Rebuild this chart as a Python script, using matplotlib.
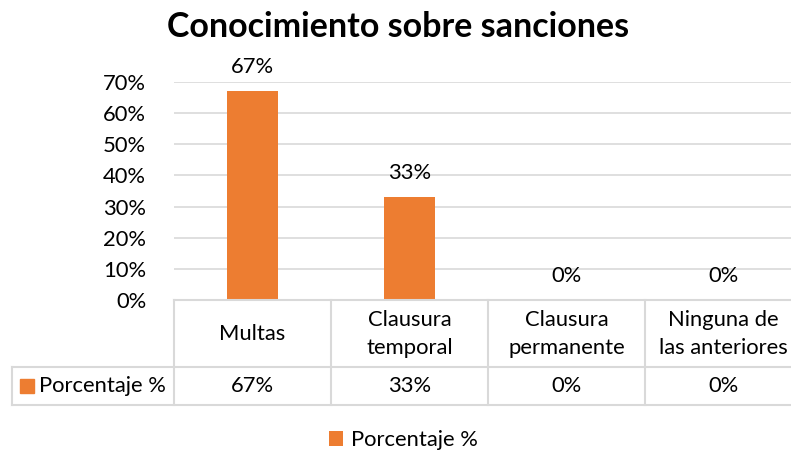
import matplotlib
matplotlib.use("Agg")
import matplotlib.pyplot as plt
from matplotlib.patches import Rectangle
from matplotlib.ticker import PercentFormatter

# --- Data ---
categorias = ["Multas", "Clausura\ntemporal", "Clausura\npermanente", "Ninguna de\nlas anteriores"]
porcentaje = [0.67, 0.33, 0.0, 0.0]
etiquetas = ["67%", "33%", "0%", "0%"]
serie = "Porcentaje %"
titulo = "Conocimiento sobre sanciones"

naranja = "#ED7D31"
gris = "#D9D9D9"
W, H = 791, 450
fs = 15.8

plt.rcParams['font.family'] = ['Lato', 'DejaVu Sans']
fig = plt.figure(figsize=(W / 100, H / 100), dpi=100)

# plot area (pixels): x 174..802 (clipped at right edge), y 82..300
ax = fig.add_axes([174 / W, 150 / H, 628 / W, 218 / H])
x = list(range(len(categorias)))
bars = ax.bar(x, porcentaje, width=0.32, color=naranja, label=serie, zorder=3)
ax.set_xlim(-0.5, 3.5)
ax.set_ylim(0, 0.7)
ax.set_yticks([i / 10 for i in range(8)])
ax.yaxis.set_major_formatter(PercentFormatter(1.0, decimals=0))
ax.grid(axis='y', color=gris, linewidth=1.2, zorder=0)
for s in ax.spines.values():
    s.set_visible(False)
ax.tick_params(axis='y', length=0, labelsize=fs, pad=20, labelcolor='black')
ax.set_xticks([])

for xi, v, t in zip(x, porcentaje, etiquetas):
    ax.annotate(t, (xi, v), xytext=(0, 10), textcoords='offset points',
                ha='center', va='bottom', fontsize=fs)

fig.text(398 / W, 1 - 27 / H, titulo, ha='center', va='center',
         fontsize=24.5, fontweight='bold')

# --- data table below the plot: rows y 300..367 and 367..405 ---
tax = fig.add_axes([174 / W, 45 / H, 628 / W, 105 / H])
tax.set_xlim(-0.5, 3.5)
tax.set_ylim(105, 0)
tax.axis('off')
left = (12 - 174) / 157 - 0.5
lk = dict(color=gris, linewidth=1.5, clip_on=False)
tax.plot([-0.5, 3.5], [0, 0], **lk)
tax.plot([left, 3.5], [67, 67], **lk)
tax.plot([left, 3.5], [105, 105], **lk)
for xv in [-0.5, 0.5, 1.5, 2.5, 3.5]:
    tax.plot([xv, xv], [0, 105], **lk)
tax.plot([left, left], [67, 105], **lk)

for xi, c, t in zip(x, categorias, etiquetas):
    tax.text(xi, 34, c, ha='center', va='center', fontsize=fs, linespacing=1.45)
    tax.text(xi, 86, t, ha='center', va='center', fontsize=fs)

sq = (14 / 157)
tax.add_patch(Rectangle((left + 8 / 157, 79), sq, 14, color=naranja, clip_on=False))
tax.text(left + 27 / 157, 86, serie, ha='left', va='center', fontsize=fs)

# --- legend ---
fig.legend(handles=[bars], loc='center', bbox_to_anchor=(403 / W, 1 - 440 / H),
           frameon=False, fontsize=fs, handlelength=0.65, handleheight=0.65,
           handletextpad=0.35, borderaxespad=0)

fig.savefig("out.png", dpi=100)
